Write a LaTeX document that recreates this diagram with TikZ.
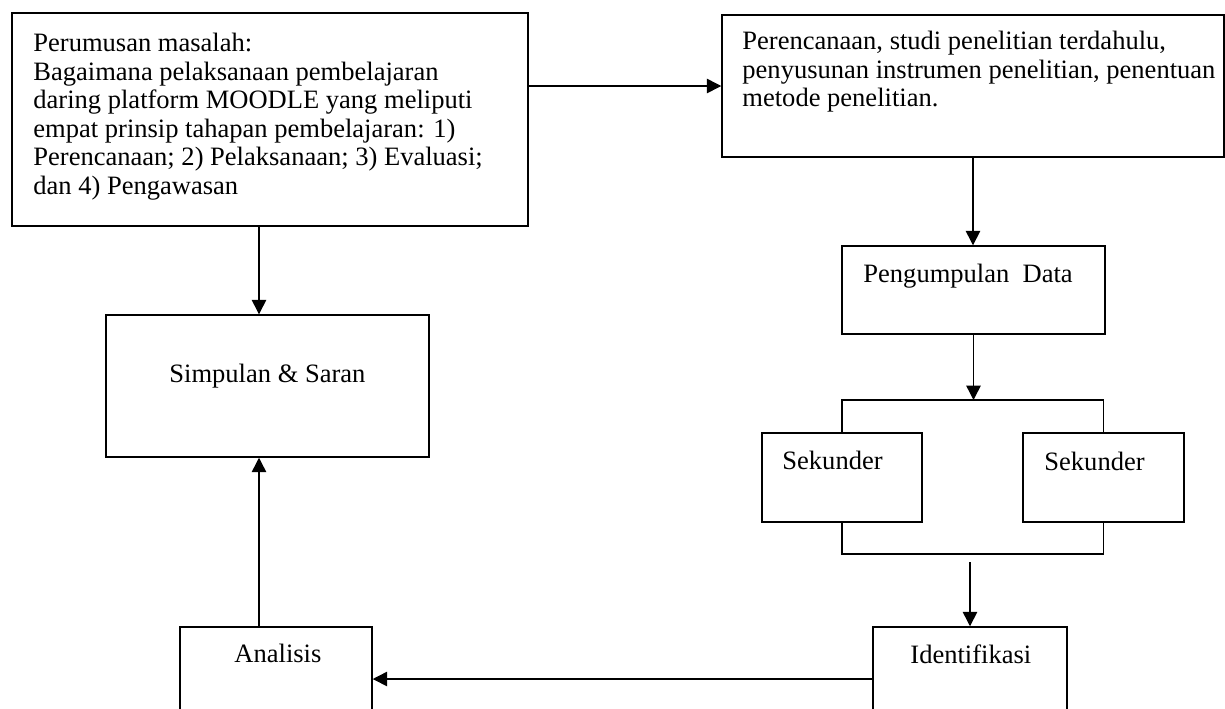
\documentclass[tikz,border=0pt]{standalone}
\usepackage{fontspec}
\setmainfont{Liberation Serif}
\usetikzlibrary{arrows.meta,positioning}
\tikzset{
  kotak/.style={draw=black, line width=0.65pt, shape=rectangle, inner sep=0pt},
  teks/.style={inner sep=0pt, align=left, font=\fontsize{12}{12.9}\selectfont},
  garis/.style={draw=black, line width=0.65pt},
  panah/.style={draw=black, line width=0.65pt, -{Triangle[length=0.23cm,width=0.23cm]}}
 }
\begin{document}
\begin{tikzpicture}[x=0.0159cm,y=-0.0159cm]
    \useasboundingbox (0,0) rectangle (1225,708);
    \clip (0,0) rectangle (1225,708);
    % kotak-kotak
    \node[kotak, minimum width=8.204cm, minimum height=3.387cm] (b1) at (270,119.5) {};
    \node[kotak, minimum width=7.982cm, minimum height=2.258cm] (b2) at (973,86) {};
    \node[kotak, minimum width=4.182cm, minimum height=1.399cm] (b3) at (973.5,290) {};
    \node[kotak, minimum width=2.544cm, minimum height=1.415cm] (s1) at (842,477.5) {};
    \node[kotak, minimum width=2.560cm, minimum height=1.415cm] (s2) at (1103.5,477.5) {};
    \node[kotak, minimum width=3.085cm, minimum height=1.654cm] (id) at (970,679) {};
    \node[kotak, minimum width=3.053cm, minimum height=1.654cm] (an) at (276,679) {};
    \node[kotak, minimum width=5.136cm, minimum height=2.258cm] (simp) at (267.5,386) {};
    % tulisan
    \node[teks, anchor=north west] (t1) at (33,33) {Perumusan masalah:\\
      Bagaimana pelaksanaan pembelajaran\\
      daring platform MOODLE yang meliputi\\
      empat prinsip tahapan pembelajaran: 1)\\
      Perencanaan; 2) Pelaksanaan; 3) Evaluasi;\\
      dan 4) Pengawasan};
    \node[teks, anchor=north west] (t2) at (742,31) {Perencanaan, studi penelitian terdahulu,\\
      penyusunan instrumen penelitian, penentuan\\
      metode penelitian.};
    \node[teks, anchor=base west] (t3) at (863,282) {Pengumpulan\ \ Data};
    \node[teks, anchor=base west] (t4) at (782,469) {Sekunder};
    \node[teks, anchor=base west] (t5) at (1044,470) {Sekunder};
    \node[teks, anchor=base west] (t6) at (910,663) {Identifikasi};
    \node[teks, anchor=base west] (t7) at (234,662) {Analisis};
    \node[teks, anchor=base west] (t8) at (169,382) {Simpulan \& Saran};
    % alur
    \coordinate (atas) at (973.5,400);
    \coordinate (bawah) at (973.5,554);
    \coordinate (lanjut) at (970,562);
    \coordinate (jalur) at (259,270);
    \draw[panah] (b1.east |- b2.west) -- (b2.west);
    \draw[panah] (b2.south) -- (b2.south |- b3.north);
    \draw[panah] (b3.south) -- (atas);
    \draw[garis] (s1.north) |- (atas) -| (s2.north);
    \draw[garis] (s1.south) |- (bawah) -| (s2.south);
    \draw[panah] (lanjut) -- (lanjut |- id.north);
    \draw[panah] (id.west) -- (an.east);
    \draw[panah] (b1.south -| jalur) -- (simp.north -| jalur);
    \draw[panah] (an.north -| jalur) -- (simp.south -| jalur);
\end{tikzpicture}
\end{document}
